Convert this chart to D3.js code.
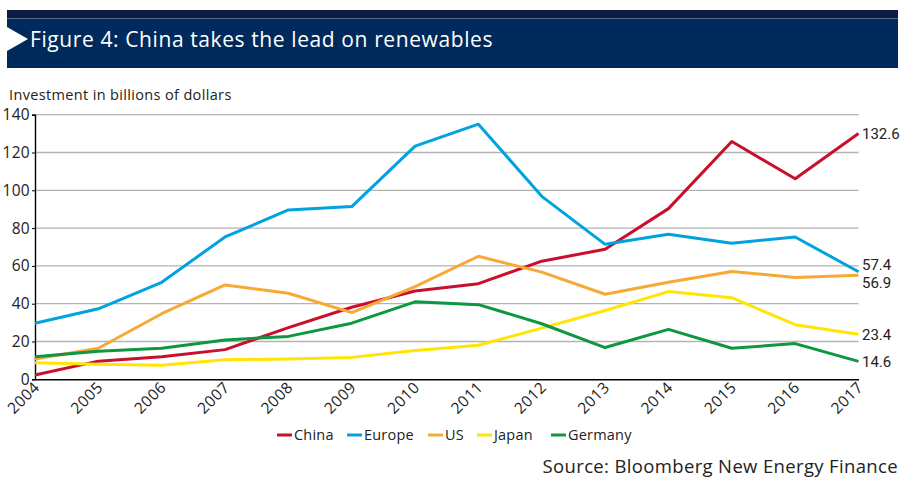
<!DOCTYPE html>
<html><head><meta charset="utf-8">
<script src="https://cdn.jsdelivr.net/npm/d3@7"></script>
<style>body{margin:0;background:#fff;}svg{display:block;font-family:"Open Sans",sans-serif;}</style>
</head><body><svg id="c" width="901" height="499"></svg>
<script>
const years = [2004,2005,2006,2007,2008,2009,2010,2011,2012,2013,2014,2015,2016,2017];
const china   = [2.3,9.6,11.9,15.7,27.3,38.1,46.7,50.6,62.5,68.8,90.3,125.8,106.1,130.1];
const europe  = [29.7,37.3,51.3,75.3,89.6,91.4,123.4,135.0,96.8,71.4,76.8,72.0,75.3,56.9];
const us      = [10.7,16.4,34.7,49.9,45.5,35.3,49.0,65.1,56.7,45.0,51.3,57.0,53.9,55.1];
const japan   = [8.7,7.9,7.4,10.3,10.8,11.6,15.2,18.0,27.1,36.4,46.4,43.2,28.9,23.8];
const germany = [11.9,14.9,16.4,20.8,22.7,29.7,41.0,39.5,29.4,16.8,26.4,16.4,18.9,9.5];
const seriesNames = ["China","Europe","US","Japan","Germany"];
const endLabels = ["132.6","57.4","56.9","23.4","14.6"];
const yTicks = [0,20,40,60,80,100,120,140];
const colors = ["#c8102e","#00a3e0","#f7a936","#ffe500","#0e9641"];
const seriesData = [china,europe,us,japan,germany];

const svg = d3.select("#c");
// header
svg.append("rect").attr("x",7).attr("y",10).attr("width",891).attr("height",9).attr("fill","#0b1c45");
svg.append("rect").attr("x",7).attr("y",18).attr("width",891).attr("height",1).attr("fill","#5a6a8a");
svg.append("rect").attr("x",7).attr("y",19).attr("width",891).attr("height",49).attr("fill","#002a5b");
svg.append("path").attr("d","M7,27L28,39L7,51Z").attr("fill","#fff");
svg.append("text").attr("x",30).attr("y",47).attr("fill","#fff").attr("font-size",21).attr("font-weight",500)
  .attr("letter-spacing",0.6).text("Figure 4: China takes the lead on renewables");

svg.append("text").attr("x",9).attr("y",100).attr("font-size",14.5).attr("letter-spacing",0.35).attr("fill","#222").text("Investment in billions of dollars");

const x = d3.scalePoint().domain(years).range([35,858.5]);
const y = d3.scaleLinear().domain([0,140]).range([379.3,114.7]);

// gridlines
svg.append("g").selectAll("line").data(yTicks.filter(d=>d>0)).join("line")
  .attr("x1",35).attr("x2",858.5).attr("y1",d=>y(d)).attr("y2",d=>y(d))
  .attr("stroke","#b3b3b3").attr("stroke-width",1.3);

const yAxis = svg.append("g").attr("transform","translate(35,0)")
  .call(d3.axisLeft(y).tickValues(yTicks).tickSize(3).tickPadding(2));
yAxis.select(".domain").attr("stroke","#000").attr("stroke-width",1.4);
yAxis.selectAll(".tick line").attr("stroke","#000");
yAxis.selectAll("text").attr("font-size",15.5).attr("fill","#222").attr("font-family","Open Sans").attr("letter-spacing",0.3);

const xAxis = svg.append("g").attr("transform","translate(0,379.3)")
  .call(d3.axisBottom(x).tickSize(0).tickPadding(0));
xAxis.select(".domain").attr("stroke","#000").attr("stroke-width",1.6);
xAxis.selectAll("text").attr("font-size",15.5).attr("fill","#222").attr("font-family","Open Sans")
  .attr("letter-spacing",0.5)
  .attr("text-anchor","end").attr("dy",0)
  .attr("transform","translate(5,9) rotate(-45)");

const line = d3.line().x((d,i)=>x(years[i])).y(d=>y(d));
seriesData.forEach((s,k)=>{
  svg.append("path").datum(s).attr("d",line).attr("fill","none")
    .attr("stroke",colors[k]).attr("stroke-width",3).attr("stroke-linejoin","round");
});

// end labels with dodge
let labs = seriesData.map((s,k)=>({t:endLabels[k], y:y(s[s.length-1])}));
labs.sort((a,b)=>a.y-b.y);
for(let it=0;it<30;it++){
  for(let i=1;i<labs.length;i++){
    const gap = labs[i].y-labs[i-1].y;
    if(gap<18){const d=(18-gap)/2; labs[i].y+=d; labs[i-1].y-=d;}
  }
}
svg.append("g").selectAll("text").data(labs).join("text")
  .attr("x",862).attr("y",d=>d.y).attr("dy","0.35em")
  .attr("font-family","Roboto").attr("font-size",15).attr("fill","#222").text(d=>d.t);

// legend
const legX = [277,347,428,477,551];
const lg = svg.append("g");
seriesNames.forEach((n,k)=>{
  lg.append("line").attr("x1",legX[k]).attr("x2",legX[k]+15).attr("y1",435).attr("y2",435)
    .attr("stroke",colors[k]).attr("stroke-width",3);
  lg.append("text").attr("x",legX[k]+17).attr("y",435).attr("dy","0.35em")
    .attr("font-size",14.5).attr("letter-spacing",0.2).attr("fill","#222").text(n);
});

svg.append("text").attr("x",898).attr("y",473).attr("text-anchor","end")
  .attr("font-size",18.5).attr("letter-spacing",0.35).attr("fill","#222").text("Source: Bloomberg New Energy Finance");
</script></body></html>
